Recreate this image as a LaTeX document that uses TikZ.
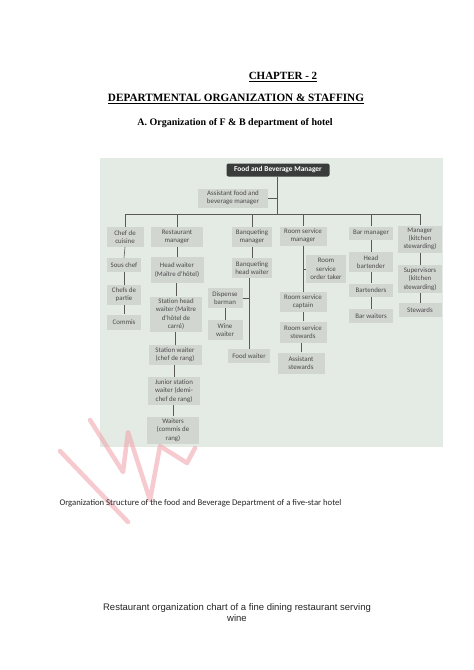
\documentclass[tikz,border=0pt]{standalone}
\usepackage{fontspec}
\setmainfont{Liberation Serif}
\newfontfamily\carlito{Carlito}
\newfontfamily\arialf{Liberation Sans}
\definecolor{photobg}{HTML}{E4EBE5}
\definecolor{boxfill}{HTML}{D2D6D1}
\definecolor{boxtext}{HTML}{4A4A4A}
\definecolor{linec}{HTML}{5A5A5A}
\definecolor{darkbox}{HTML}{3A3C3B}
\definecolor{wmark}{HTML}{F0A8AE}
\tikzset{
  obox/.style={fill=boxfill, text=boxtext, font=\carlito\fontsize{6.9}{8.3}\selectfont, align=center, inner sep=0.5pt},
  conn/.style={draw=linec, line width=0.6pt},
  wstroke/.style={draw=wmark, opacity=0.6, line width=4.5pt, line cap=round, line join=round},
}
\begin{document}
\begin{tikzpicture}[x=1pt,y=-1pt]
\useasboundingbox (0,0) rectangle (474,670);
\fill[white] (0,0) rectangle (474,670);
% headings
\node (chap) at (283,77) {\fontsize{11}{13}\selectfont\bfseries\underline{CHAPTER - 2}};
\node (dept) at (236,99) {\fontsize{11.2}{13}\selectfont\bfseries\underline{DEPARTMENTAL ORGANIZATION \& STAFFING}};
\node (sub) at (235,123) {\fontsize{10}{12}\selectfont\bfseries A. Organization of F \& B department of hotel};
% photo background
\fill[photobg] (100,158) rectangle (443,447);
% top nodes
\node[fill=darkbox, text=white, rounded corners=2pt, font=\carlito\bfseries\fontsize{7.4}{9}\selectfont, minimum width=103pt, minimum height=13pt, inner sep=0.5pt] (fbm) at (278,170) {Food and Beverage Manager};
\node[obox, minimum width=70pt, minimum height=19pt] (asst) at (233,198) {Assistant food and\\beverage manager};
\coordinate (hub) at (277,214);
% level 1
\node[obox, minimum width=37pt, minimum height=20pt] (chef) at (125,237) {Chef de\\cuisine};
\node[obox, minimum width=52pt, minimum height=20pt] (rest) at (177,237) {Restaurant\\manager};
\node[obox, minimum width=40pt, minimum height=20pt] (banq) at (252,237) {Banqueting\\manager};
\node[obox, minimum width=47pt, minimum height=19pt] (rsm) at (303,236) {Room service\\manager};
\node[obox, minimum width=44pt, minimum height=13pt] (bar) at (371,233) {Bar manager};
\node[obox, minimum width=44pt, minimum height=27pt] (kmgr) at (420,239) {Manager\\(kitchen\\stewarding)};
% chef column
\node[obox, minimum width=34pt, minimum height=14pt] (sous) at (124,265) {Sous chef};
\node[obox, minimum width=34pt, minimum height=20pt] (partie) at (124,295) {Chefs de\\partie};
\node[obox, minimum width=34pt, minimum height=15pt] (commis) at (124,322) {Commis};
% restaurant column
\node[obox, minimum width=53pt, minimum height=26pt] (head) at (177,270) {Head waiter\\(Maître d'hôtel)};
\node[obox, minimum width=52pt, minimum height=35pt] (shw) at (176,314) {Station head\\waiter (Maître\\d'hôtel de\\carré)};
\node[obox, minimum width=53pt, minimum height=20pt] (sw) at (175,355) {Station waiter\\(chef de rang)};
\node[obox, minimum width=52pt, minimum height=28pt] (jsw) at (174,391) {Junior station\\waiter (demi-\\chef de rang)};
\node[obox, minimum width=52pt, minimum height=27pt] (waiters) at (173,430) {Waiters\\(commis de\\rang)};
% banqueting column
\node[obox, minimum width=40pt, minimum height=20pt] (bhw) at (252,268) {Banqueting\\head waiter};
\node[obox, minimum width=35pt, minimum height=20pt] (disp) at (225,298) {Dispense\\barman};
\node[obox, minimum width=35pt, minimum height=20pt] (wine) at (225,330) {Wine\\waiter};
\node[obox, minimum width=42pt, minimum height=14pt] (food) at (249,356) {Food waiter};
% room service column
\node[obox, minimum width=40pt, minimum height=28pt] (rsot) at (326,269) {Room\\service\\order taker};
\node[obox, minimum width=47pt, minimum height=20pt] (rsc) at (303,302) {Room service\\captain};
\node[obox, minimum width=47pt, minimum height=21pt] (rss) at (303,332) {Room service\\stewards};
\node[obox, minimum width=47pt, minimum height=21pt] (ast) at (301,363) {Assistant\\stewards};
% bar column
\node[obox, minimum width=44pt, minimum height=20pt] (hb) at (371,262) {Head\\bartender};
\node[obox, minimum width=44pt, minimum height=13pt] (bt) at (371,290) {Bartenders};
\node[obox, minimum width=44pt, minimum height=14pt] (bw) at (371,316) {Bar waiters};
% kitchen stewarding column
\node[obox, minimum width=44pt, minimum height=28pt] (sup) at (420,279) {Supervisors\\(kitchen\\stewarding)};
\node[obox, minimum width=43pt, minimum height=14pt] (stw) at (420,310) {Stewards};
% connectors
\draw[conn] (fbm.south -| hub) -- (hub);
\draw[conn] (asst.east) -- (asst.east -| hub);
\draw[conn] (chef.north |- hub) -- (kmgr.north |- hub);
\foreach \n in {chef,rest,banq,rsm,bar,kmgr} \draw[conn] (\n.north) -- (\n.north |- hub);
\draw[conn] (chef.south) -- (sous.north);
\draw[conn] (sous.south) -- (partie.north);
\draw[conn] (partie.south) -- (commis.north);
\draw[conn] (head.north) -- (head.north |- rest.south);
\draw[conn] (shw.north) -- (shw.north |- head.south);
\draw[conn] (sw.north) -- (sw.north |- shw.south);
\draw[conn] (jsw.north) -- (jsw.north |- sw.south);
\draw[conn] (waiters.north) -- (waiters.north |- jsw.south);
\draw[conn] (banq.south) -- (bhw.north);
\draw[conn] (bhw.south -| food.north) -- (food.north);
\draw[conn] (disp.east) -- (disp.east -| food.north);
\draw[conn] (disp.south) -- (wine.north);
\draw[conn] (rsm.south) -- (rsc.north);
\draw[conn] (rsot.west) -- (rsot.west -| rsm.south);
\draw[conn] (rss.north) -- (rss.north |- rsc.south);
\draw[conn] (ast.north) -- (ast.north |- rss.south);
\draw[conn] (bar.south) -- (hb.north);
\draw[conn] (hb.south) -- (bt.north);
\draw[conn] (bt.south) -- (bw.north);
\draw[conn] (kmgr.south) -- (sup.north);
\draw[conn] (sup.south) -- (stw.north);
% watermark
\draw[wstroke] (60,451) -- (128,522);
\draw[wstroke] (90,420) -- (123,472) -- (128,432) -- (150,500) -- (160,446) -- (187,463) -- (195,448);
% captions
\node[anchor=west, font=\carlito\fontsize{8.7}{10.5}\selectfont, text=black!85] (cap1) at (56,503) {Organization Structure of the food and Beverage Department of a five-star hotel};
\node[font=\arialf\fontsize{9.5}{11}\selectfont, align=center, text=black!85] (cap2) at (237,613) {Restaurant organization chart of a fine dining restaurant serving\\wine};
\end{tikzpicture}
\end{document}
